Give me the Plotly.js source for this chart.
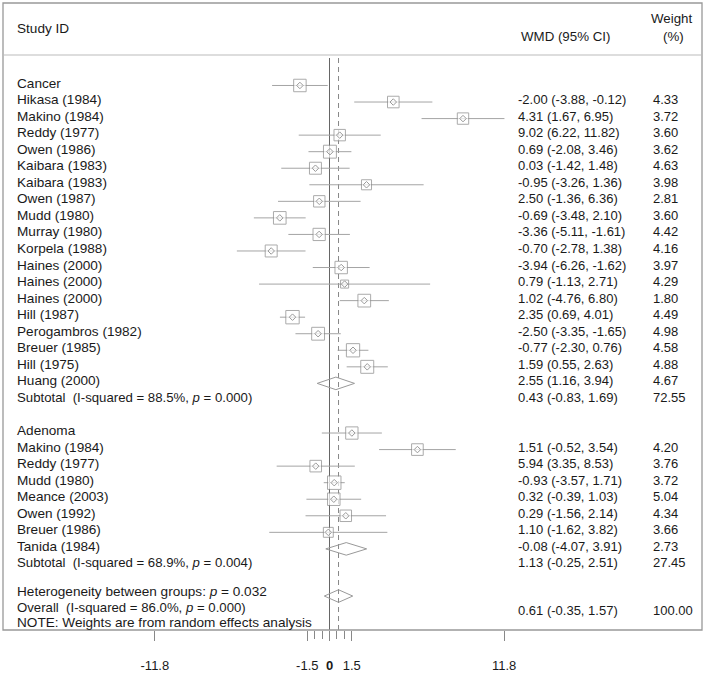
<!DOCTYPE html>
<html>
<head>
<meta charset="utf-8">
<script src="https://cdn.plot.ly/plotly-3.0.1.min.js"></script>
<style>html,body{margin:0;padding:0;background:#fff;}#chart{width:705px;height:680px;}</style>
</head>
<body>
<div id="chart"></div>
<script>
// ---------------- DATA ----------------
const cancerStudies = ["Hikasa (1984)","Makino (1984)","Reddy (1977)","Owen (1986)","Kaibara (1983)","Kaibara (1983)","Owen (1987)","Mudd (1980)","Murray (1980)","Korpela (1988)","Haines (2000)","Haines (2000)","Haines (2000)","Hill (1987)","Perogambros (1982)","Breuer (1985)","Hill (1975)","Huang (2000)"];
const cancerWMD = [-2.00, 4.31, 9.02, 0.69, 0.03, -0.95, 2.50, -0.69, -3.36, -0.70, -3.94, 0.79, 1.02, 2.35, -2.50, -0.77, 1.59, 2.55];
const cancerLo  = [-3.88, 1.67, 6.22, -2.08, -1.42, -3.26, -1.36, -3.48, -5.11, -2.78, -6.26, -1.13, -4.76, 0.69, -3.35, -2.30, 0.55, 1.16];
const cancerHi  = [-0.12, 6.95, 11.82, 3.46, 1.48, 1.36, 6.36, 2.10, -1.61, 1.38, -1.62, 2.71, 6.80, 4.01, -1.65, 0.76, 2.63, 3.94];
const cancerWeight = [4.33, 3.72, 3.60, 3.62, 4.63, 3.98, 2.81, 3.60, 4.42, 4.16, 3.97, 4.29, 1.80, 4.49, 4.98, 4.58, 4.88, 4.67];

const adenomaStudies = ["Makino (1984)","Reddy (1977)","Mudd (1980)","Meance (2003)","Owen (1992)","Breuer (1986)","Tanida (1984)"];
const adenomaWMD = [1.51, 5.94, -0.93, 0.32, 0.29, 1.10, -0.08];
const adenomaLo  = [-0.52, 3.35, -3.57, -0.39, -1.56, -1.62, -4.07];
const adenomaHi  = [3.54, 8.53, 1.71, 1.03, 2.14, 3.82, 3.91];
const adenomaWeight = [4.20, 3.76, 3.72, 5.04, 4.34, 3.66, 2.73];

const groupNames = ["Cancer", "Adenoma"];
const subtotalWMD = [0.43, 1.13];
const subtotalLo  = [-0.83, -0.25];
const subtotalHi  = [1.69, 2.51];
const subtotalWeight = [72.55, 27.45];
const subtotalI2 = ["88.5%", "68.9%"];
const subtotalP  = ["0.000", "0.004"];

const overallWMD = 0.61, overallLo = -0.35, overallHi = 1.57, overallWeight = 100.00;
const overallI2 = "86.0%", overallP = "0.000", heterogeneityP = "0.032";

const tickVals = [-11.8, -1.5, 0, 1.5, 11.8];
const tickText = ["-11.8", "-1.5", "<b>0</b>", "1.5", "11.8"];
const minorTickVals = [-1, -0.5, 0.5, 1];

// ---------------- LAYOUT HELPERS ----------------
const FONT = "Liberation Sans, Arial, sans-serif";
const TXT = "#1a1a1a";
const px2paper = px => (px - 3) / 699;
const fmt = (e, l, h) => e.toFixed(2) + " (" + l.toFixed(2) + ", " + h.toFixed(2) + ")";
const MARK_SHIFT = 0.85;

const annotations = [];
function txt(text, xpx, row, anchor, size) {
  annotations.push({
    text: text, xref: "paper", yref: "y", x: px2paper(xpx), y: row,
    xanchor: anchor || "left", yanchor: "middle", showarrow: false,
    font: {family: FONT, size: size || 13, color: TXT}
  });
}
const LBL = 13.6;

const ciX = [], ciY = [], boxX = [], boxY = [], boxS = [];
const diaX = [], diaY = [];
function addStudies(names, wmd, lo, hi, wt, startRow) {
  names.forEach((n, i) => {
    const r = startRow + i;
    txt(n, 15, r, "left", LBL);
    txt(fmt(wmd[i], lo[i], hi[i]), 516, r);
    txt(wt[i].toFixed(2), 651, r);
    const mr = r - MARK_SHIFT;
    ciX.push(lo[i], hi[i], null); ciY.push(mr, mr, null);
    boxX.push(wmd[i]); boxY.push(mr); boxS.push(6 * Math.sqrt(wt[i]));
  });
}
function addDiamond(e, l, h, row) {
  const hh = 0.38;
  diaX.push(l, e, h, e, l, null);
  diaY.push(row, row - hh, row, row + hh, row, null);
}

// headers
txt("Study ID", 15, -3.32, "left", LBL);
txt("WMD (95% CI)", 519, -2.78, "left", 13.3);
txt("Weight", 694, -3.87, "right", 13.3);
txt("(%)", 686, -2.78, "right", 13.3);

// Cancer group
txt(groupNames[0], 15, 0, "left", LBL);
addStudies(cancerStudies, cancerWMD, cancerLo, cancerHi, cancerWeight, 1);
txt("Subtotal\u00a0 (I-squared = " + subtotalI2[0] + ", <i>p</i> = " + subtotalP[0] + ")", 15, 19, "left", 13.2);
txt(fmt(subtotalWMD[0], subtotalLo[0], subtotalHi[0]), 516, 19);
txt(subtotalWeight[0].toFixed(2), 651, 19);
addDiamond(subtotalWMD[0], subtotalLo[0], subtotalHi[0], 19 - MARK_SHIFT);

// Adenoma group
txt(groupNames[1], 15, 21, "left", LBL);
addStudies(adenomaStudies, adenomaWMD, adenomaLo, adenomaHi, adenomaWeight, 22);
txt("Subtotal\u00a0 (I-squared = " + subtotalI2[1] + ", <i>p</i> = " + subtotalP[1] + ")", 15, 29, "left", 13.2);
txt(fmt(subtotalWMD[1], subtotalLo[1], subtotalHi[1]), 516, 29);
txt(subtotalWeight[1].toFixed(2), 651, 29);
addDiamond(subtotalWMD[1], subtotalLo[1], subtotalHi[1], 29 - MARK_SHIFT);

// Overall
txt("Heterogeneity between groups: <i>p</i> = " + heterogeneityP, 15, 30.7, "left", LBL);
txt("Overall\u00a0 (I-squared = " + overallI2 + ", <i>p</i> = " + overallP + ")", 15, 31.68, "left", 13.2);
txt("NOTE: Weights are from random effects analysis", 15, 32.6, "left", LBL);
txt(fmt(overallWMD, overallLo, overallHi), 516, 31.9);
txt(overallWeight.toFixed(2), 651, 31.9);
addDiamond(overallWMD, overallLo, overallHi, 31.0);

const yTop = (3 - 83) / 16.55, yBot = (630 - 83) / 16.55;
const lineTop = (58 - 83) / 16.55;

const traces = [
  {x: [0, 0], y: [lineTop, yBot], mode: "lines", line: {color: "#666", width: 1}, hoverinfo: "skip"},
  {x: [overallWMD, overallWMD], y: [lineTop, yBot], mode: "lines", line: {color: "#888", width: 1, dash: "5px,4px"}, hoverinfo: "skip"},
  {x: ciX, y: ciY, mode: "lines", line: {color: "#a4a4a4", width: 1}, hoverinfo: "skip"},
  {x: diaX, y: diaY, mode: "lines", line: {color: "#999", width: 1}, hoverinfo: "skip"},
  {x: boxX, y: boxY, mode: "markers", hoverinfo: "skip",
   marker: {symbol: "square", size: boxS, color: "rgba(255,255,255,1)", line: {color: "#888", width: 1}}},
  {x: boxX, y: boxY, mode: "markers", hoverinfo: "skip",
   marker: {symbol: "diamond-open", size: 5, color: "#999", line: {color: "#999", width: 1}}}
];

const layout = {
  width: 705, height: 680,
  margin: {l: 3, r: 3, t: 3, b: 50},
  paper_bgcolor: "#fff", plot_bgcolor: "#fff",
  showlegend: false,
  xaxis: {
    range: [(3 - 329.5) / 14.8, (702 - 329.5) / 14.8],
    showgrid: false, zeroline: false, showline: false,
    tickmode: "array", tickvals: tickVals, ticktext: tickText,
    ticks: "outside", ticklen: 10, tickwidth: 1, tickcolor: "#888",
    ticklabelstandoff: 13,
    tickfont: {family: FONT, size: 13, color: TXT},
    minor: {tickmode: "array", tickvals: minorTickVals, ticks: "outside", ticklen: 8, tickwidth: 1, tickcolor: "#888"},
    fixedrange: true
  },
  yaxis: {
    range: [yBot, yTop], visible: false, showgrid: false, zeroline: false, fixedrange: true
  },
  shapes: [
    {type: "rect", xref: "paper", yref: "paper", x0: 0, x1: 1, y0: 0, y1: 1, line: {color: "#999", width: 1.3}},
    {type: "line", xref: "paper", yref: "y", x0: 0, x1: 1, y0: (55 - 83) / 16.55, y1: (55 - 83) / 16.55, line: {color: "#bbb", width: 1}}
  ],
  annotations: annotations
};

Plotly.newPlot("chart", traces, layout, {displayModeBar: false, staticPlot: true});
</script>
</body>
</html>
